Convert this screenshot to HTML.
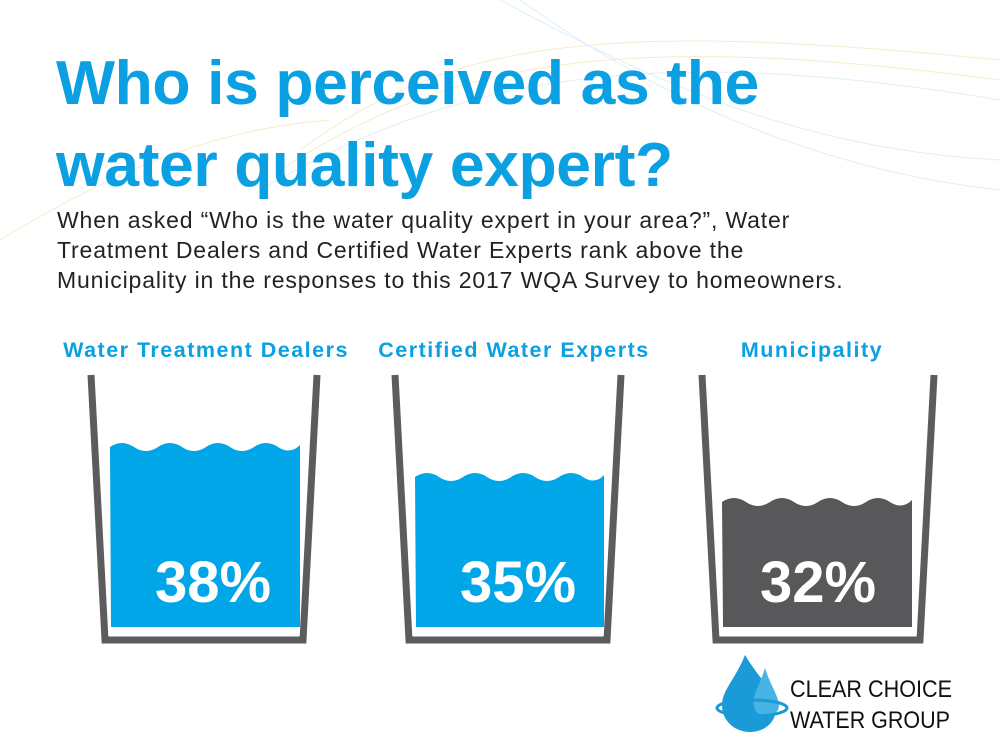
<!DOCTYPE html>
<html><head><meta charset="utf-8"><style>
body{margin:0;width:1000px;height:750px;overflow:hidden;background:#fff;font-family:"Liberation Sans",sans-serif;position:relative}
.t{position:absolute;left:56px;top:42px;font-weight:bold;color:#0aa0e2;font-size:62.5px;line-height:82px;letter-spacing:-0.4px}
.p{position:absolute;left:57px;top:205px;font-size:23px;line-height:30px;color:#222;width:940px;letter-spacing:0.85px}
.l{position:absolute;top:338px;font-weight:bold;color:#0aa0e2;font-size:21.5px;text-align:center;width:360px;letter-spacing:1.5px}
svg{position:absolute;left:0;top:0}
</style></head><body>
<svg width="1000" height="750">
<g fill="none" stroke-width="1" opacity="0.35">
<path d="M300 150 C450 40 600 20 1000 60" stroke="#e8c86a"/>
<path d="M280 170 C450 60 620 30 1000 80" stroke="#e8c86a"/>
<path d="M260 190 C450 80 640 40 1000 100" stroke="#9fd4ee"/>
<path d="M500 0 C650 80 800 150 1000 160" stroke="#9fd4ee"/>
<path d="M520 0 C660 100 820 170 1000 190" stroke="#9fd4ee"/>
<path d="M0 240 C100 180 200 130 330 120" stroke="#e8c86a"/>
</g>
<g fill="none" stroke="#5c5c5e" stroke-width="7">
<path d="M91 375 L105 640 L303 640 L317 375"/>
<path d="M395 375 L409 640 L607 640 L621 375"/>
<path d="M702 375 L716 640 L920 640 L934 375"/>
</g>
<path d="M110 447 q12 -8 24 0 t24 0 t24 0 t24 0 t24 0 t24 0 t24 0 t22 -2 L300 627 L111 627Z" fill="#00a6e8"/>
<path d="M415 477 q12 -8 24 0 t24 0 t24 0 t24 0 t24 0 t24 0 t24 0 t21 -2 L604 627 L416 627Z" fill="#00a6e8"/>
<path d="M722 502 q12 -8 24 0 t24 0 t24 0 t24 0 t24 0 t24 0 t24 0 t22 -2 L912 627 L723 627Z" fill="#58585a"/>
<g fill="#fff" font-family="Liberation Sans,sans-serif" font-weight="bold" font-size="58" text-anchor="middle">
<text x="213" y="602">38%</text><text x="518" y="602">35%</text><text x="818" y="602">32%</text>
</g>
<g>
<path d="M745 655 C735 680 722 690 722 705 C722 722 736 732 750 732 C766 732 778 720 776 704 C774 690 760 680 745 655Z" fill="#1a9ad6"/>
<path d="M765 668 C758 690 752 695 754 706 C756 718 772 720 778 710 C782 700 772 690 765 668Z" fill="#48b4e4"/>
<ellipse cx="752" cy="708" rx="35" ry="8" fill="none" stroke="#1a9ad6" stroke-width="3"/>
</g>
<g fill="#111" font-family="Liberation Sans,sans-serif" font-size="24">
<text x="790" y="697" textLength="162" lengthAdjust="spacingAndGlyphs">CLEAR CHOICE</text><text x="790" y="728" textLength="160" lengthAdjust="spacingAndGlyphs">WATER GROUP</text>
</g>
<text x="752" y="728" font-size="7" fill="#1a9ad6" font-family="Liberation Sans,sans-serif">TM</text>
</svg>
<div class="t">Who is perceived as the<br>water quality expert?</div>
<div class="p">When asked “Who is the water quality expert in your area?”, Water<br>Treatment Dealers and Certified Water Experts rank above the<br>Municipality in the responses to this 2017 WQA Survey to homeowners.</div>
<div class="l" style="left:26px">Water Treatment Dealers</div>
<div class="l" style="left:334px">Certified Water Experts</div>
<div class="l" style="left:632px">Municipality</div>
</body></html>
